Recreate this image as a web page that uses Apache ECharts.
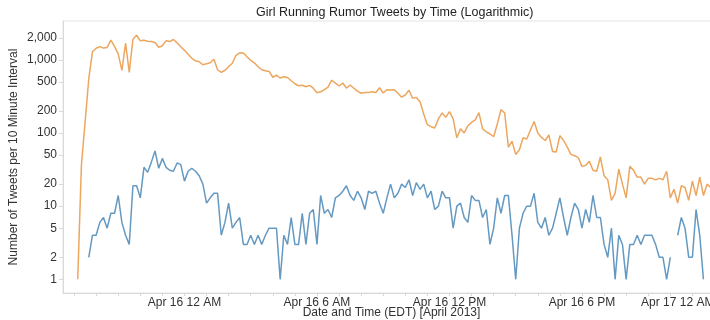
<!DOCTYPE html>
<html>
<head>
<meta charset="utf-8">
<title>Girl Running Rumor Tweets by Time</title>
<script src="https://cdn.jsdelivr.net/npm/echarts@6/dist/echarts.min.js"></script>
<style>
  html, body { margin: 0; padding: 0; background: #ffffff; }
  #chart { width: 710px; height: 320px; }
</style>
</head>
<body>
<div id="chart"></div>
<script>
// Tweet counts per 10-minute interval, first interval Apr 15 2013 19:10 EDT.
const firstInterval = '2013-04-15 19:10';
const intervalMinutes = 10;

// All tweets of the rumor (orange)
const totalTweets = [
  1, 36, 140, 550, 1290, 1440, 1520, 1450, 1480, 1860,
  1530, 1210, 720, 1690, 673, 1910, 2170, 1820, 1850, 1800,
  1780, 1730, 1490, 1560, 1820, 1780, 1900, 1710, 1510, 1350,
  1190, 1050, 970, 942, 858, 885, 913, 1020, 733, 673,
  721, 805, 899, 1156, 1250, 1240, 1100, 988, 913, 805,
  733, 710, 695, 579, 617, 565, 588, 575, 519, 472,
  443, 450, 430, 448, 410, 356, 367, 391, 423, 527,
  480, 439, 482, 412, 453, 410, 373, 350, 359, 359,
  367, 359, 416, 352, 391, 388, 391, 350, 309, 331,
  385, 299, 307, 268, 182, 130, 122, 117, 156, 188,
  164, 196, 156, 86, 114, 100, 126, 140, 151, 190,
  114, 104, 97, 89, 133, 209, 188, 64, 77, 51,
  59, 86, 83, 110, 144, 100, 87, 79, 94, 56,
  55, 92, 79, 64, 51, 49, 46, 35, 36, 41,
  31, 30, 47, 26, 23, 12, 15, 32, 20, 13,
  35, 31, 25, 25, 20, 24, 24, 23, 24, 23,
  30, 13, 17, 11, 19, 18, 12, 22, 14, 25,
  14, 20, 18
];

// Second series (blue); null = no tweets in that interval
const secondTweets = [
  null, null, null, 2, 4, 4, 6, 7, 5, 8,
  8, 14, 6, 4, 3, 19, 19, 13, 34, 29,
  40, 57, 33, 45, 34, 31, 30, 39, 37, 22,
  30, 33, 30, 26, 20, 11, 13, 15, 15, 4,
  6, 11, 5, 6, 7, 3, 3, 4, 3, 4,
  3, 4, 5, 5, 5, 1, 4, 3, 7, 3,
  3, 8, 3, 8, 9, 3, 14, 8, 9, 7,
  13, 14, 16, 19, 14, 12, 16, 13, 9, 16,
  15, 16, 11, 8, 13, 20, 13, 15, 20, 18,
  23, 14, 21, 17, 20, 13, 16, 9, 10, 16,
  13, 13, 5, 10, 11, 7, 6, 14, 12, 12,
  7, 9, 3, 5, 13, 8, 14, 14, 4, 1,
  5, 8, 10, 10, 15, 6, 5, 7, 4, 5,
  8, 13, 7, 4, 7, 11, 9, 5, 9, 6,
  14, 7, 7, 3, 2, 5, 1, 4, 3, 1,
  3, 3, 4, 3, 4, 4, 4, 3, 2, 2,
  1, 2, null, 4, 7, 5, 2, 2, 9, 4,
  1
];

// Axis ticks
const yTickValues = [1, 2, 5, 10, 20, 50, 100, 200, 500, 1000, 2000];
const xLabelTimes = ['2013-04-16 00:00', '2013-04-16 06:00', '2013-04-16 12:00', '2013-04-16 18:00', '2013-04-17 00:00'];
const xLabelTexts = ['Apr 16 12 AM', 'Apr 16 6 AM', 'Apr 16 12 PM', 'Apr 16 6 PM', 'Apr 17 12 AM'];
const xAxisStart = '2013-04-15 18:30';
const xAxisEnd = '2013-04-17 00:15';
const firstHourTick = '2013-04-15 19:00';

// The x axis runs in minutes relative to Apr 16 00:00 EDT.
const refMs = Date.UTC(2013, 3, 16, 0, 0);
function toMin(s) {
  const [d, t] = s.split(' ');
  const [Y, M, D] = d.split('-').map(Number);
  const [h, m] = t.split(':').map(Number);
  return (Date.UTC(Y, M - 1, D, h, m) - refMs) / 60000;
}

const m0 = toMin(firstInterval);
const pairs = vals => vals.map((v, i) => [m0 + i * intervalMinutes, v]);

const hourTicks = [];
for (let m = toMin(firstHourTick); m <= toMin(xLabelTimes[xLabelTimes.length - 1]); m += 60) {
  hourTicks.push(m);
}
const labelMins = xLabelTimes.map(toMin);

const FONT = '"Liberation Sans", Arial, sans-serif';
const AXIS_GREY = '#d9d9d9';

const chart = echarts.init(document.getElementById('chart'), null, { renderer: 'canvas' });
chart.setOption({
  animation: false,
  backgroundColor: '#ffffff',
  textStyle: { fontFamily: FONT },
  title: {
    text: 'Girl Running Rumor Tweets by Time (Logarithmic)',
    left: 256,
    top: 6,
    padding: 0,
    textStyle: { fontFamily: FONT, fontSize: 12.5, fontWeight: 'normal', color: '#222222' }
  },
  grid: {
    left: 63, right: -10, top: 21, bottom: 27,
    show: true, borderColor: '#e4e4e4', borderWidth: 1,
    containLabel: false,
    outerBoundsMode: 'none'
  },
  xAxis: {
    type: 'value',
    min: toMin(xAxisStart),
    max: toMin(xAxisEnd),
    name: 'Date and Time (EDT) [April 2013]',
    nameLocation: 'middle',
    nameGap: 14,
    nameMoveOverlap: false,
    nameTextStyle: { fontFamily: FONT, fontSize: 12, color: '#333333' },
    axisLine: { show: true, onZero: false, lineStyle: { color: AXIS_GREY, width: 1 } },
    axisTick: { show: true, length: 3, customValues: hourTicks, lineStyle: { color: AXIS_GREY } },
    axisLabel: {
      customValues: labelMins,
      formatter: v => {
        const k = labelMins.indexOf(Math.round(Number(v)));
        return k >= 0 ? xLabelTexts[k] : '';
      },
      fontFamily: FONT, fontSize: 12, color: '#333333',
      margin: 4,
      alignMaxLabel: 'right',
      hideOverlap: false
    },
    splitLine: { show: false }
  },
  yAxis: {
    type: 'log',
    logBase: 10,
    min: 0.65,
    max: 3400,
    name: 'Number of Tweets per 10 Minute Interval',
    nameLocation: 'middle',
    nameGap: 43,
    nameMoveOverlap: false,
    nameTextStyle: { fontFamily: FONT, fontSize: 12, color: '#333333' },
    axisLine: { show: true, onZero: false, lineStyle: { color: AXIS_GREY, width: 1 } },
    axisTick: { show: true, length: 4, customValues: yTickValues, lineStyle: { color: AXIS_GREY } },
    axisLabel: {
      customValues: yTickValues,
      formatter: v => Math.round(Number(v)).toLocaleString('en-US'),
      fontFamily: FONT, fontSize: 12, color: '#333333',
      margin: 6
    },
    splitLine: { show: false }
  },
  series: [
    {
      name: 'All tweets',
      type: 'line',
      data: pairs(totalTweets),
      showSymbol: false,
      connectNulls: false,
      lineStyle: { color: '#eda65e', width: 1.5 },
      itemStyle: { color: '#eda65e' },
      z: 2
    },
    {
      name: 'Second series',
      type: 'line',
      data: pairs(secondTweets),
      showSymbol: false,
      connectNulls: false,
      lineStyle: { color: '#6499c2', width: 1.5 },
      itemStyle: { color: '#6499c2' },
      z: 3
    }
  ]
});
</script>
</body>
</html>
